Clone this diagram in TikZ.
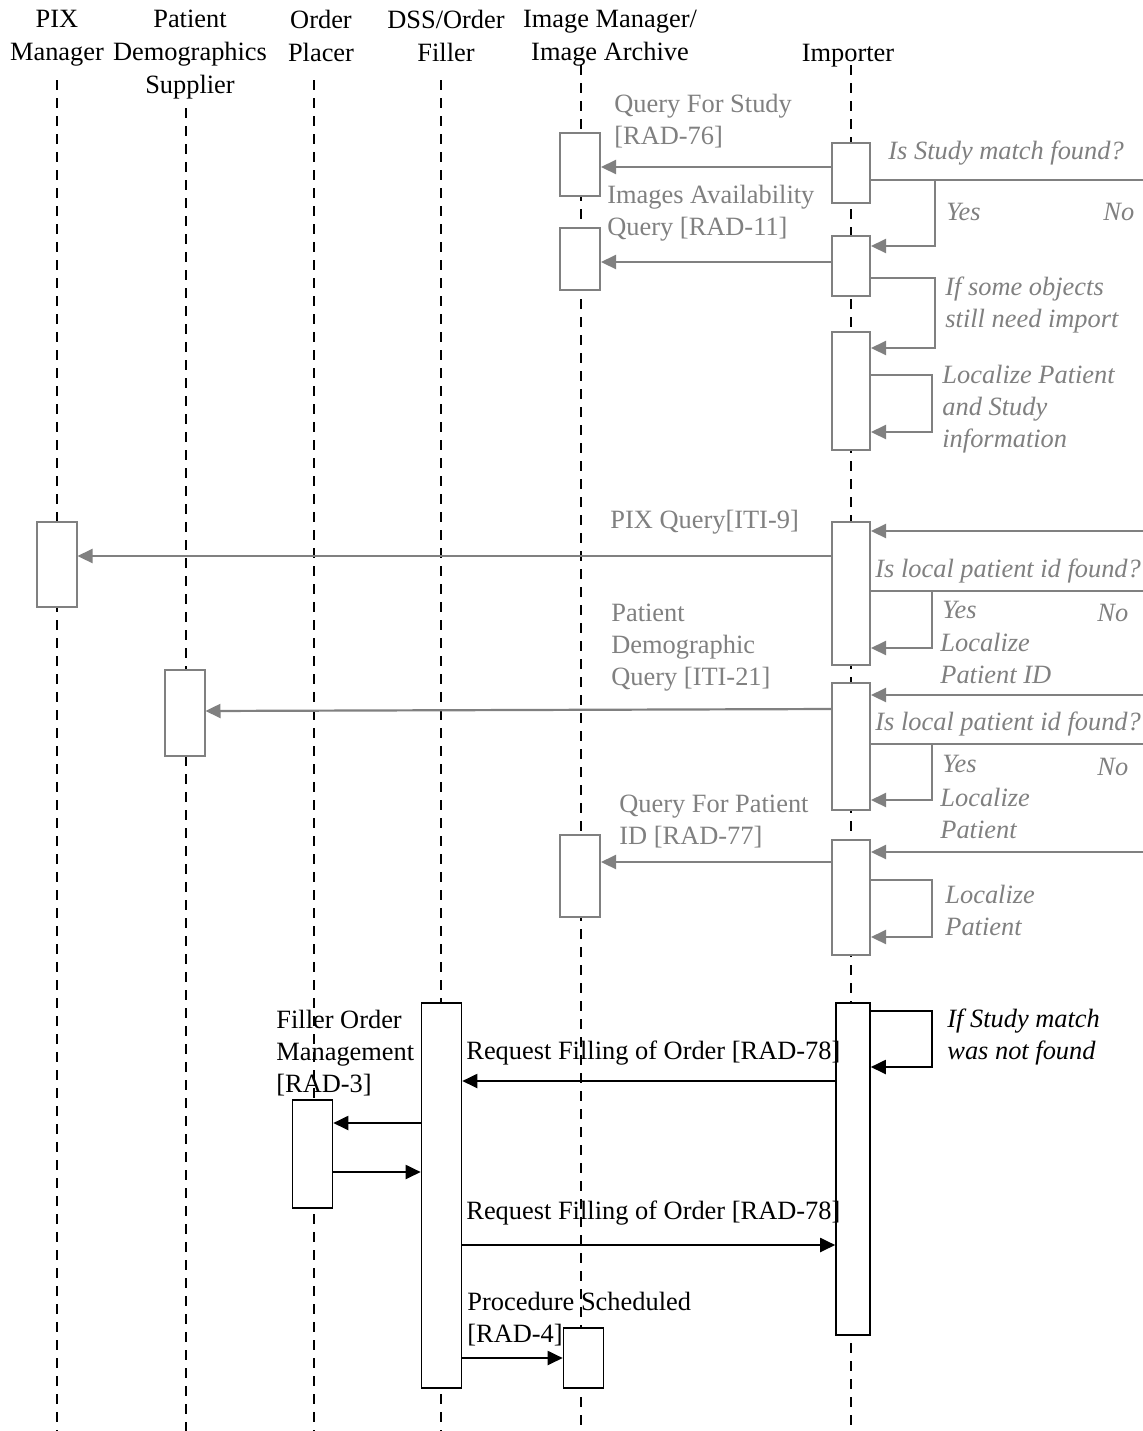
\documentclass[tikz,border=0pt]{standalone}
\usepackage{fontspec}
\setmainfont{Liberation Serif}
\usetikzlibrary{arrows.meta}

\newcommand\diagfont{\fontsize{13.2}{16}\selectfont}
\newcommand\headfont{\fontsize{13.2}{16.5}\selectfont}
\colorlet{flowgray}{black!50}

\tikzset{
  lifeline/.style={draw=black, line width=0.8pt, dash pattern=on 5pt off 4pt},
  actbox/.style={draw, fill=white, minimum width=20pt, inner sep=0pt},
  graybox/.style={actbox, draw=flowgray, line width=1pt},
  blackbox/.style={actbox, draw=black, line width=0.8pt},
  graymsg/.style={-{Triangle[length=7.5pt,width=7pt]}, color=flowgray,
                  line width=1.1pt},
  blackmsg/.style={-{Triangle[length=7.5pt,width=7pt]}, color=black,
                   line width=1pt},
  grayline/.style={draw=flowgray, line width=1.1pt},
  header/.style={font=\headfont, align=center, inner sep=0pt, anchor=north},
  msgtext/.style={font=\diagfont, anchor=west, align=left, inner sep=0pt},
  graytext/.style={msgtext, text=flowgray},
  condtext/.style={graytext, font=\diagfont\itshape},
}

\begin{document}
\begin{tikzpicture}[x=0.5pt, y=-0.5pt]

  \useasboundingbox[fill=white] (0,0) rectangle (1143,1431);

  %% -- Actor headers ---------------------------------------------
  \node[header] (hpix) at (57,9.5)   {PIX\\Manager};
  \node[header] (hsup) at (190,9.5)  {Patient\\Demographics\\Supplier};
  \node[header] (hop)  at (321,9.5)  {Order\\Placer};
  \node[header] (hdss) at (446,9.5)  {DSS/Order\\Filler};
  \node[header] (him)  at (610,9.5)  {Image Manager/\\Image Archive};
  \node[header] (himp) at (848,44)   {Importer};

  %% -- Lifelines -------------------------------------------------
  \foreach \x/\ytop in {57/80, 186/108, 314/80, 441/80, 581/65, 851/65}
    \draw[lifeline] (\x,\ytop) -- (\x,1431);

  %% -- Activation boxes (gray part) ------------------------------
  \node[graybox, minimum height=31.5pt] (im1)  at (580,164.5) {};
  \node[graybox, minimum height=31pt]   (im2)  at (580,259)   {};
  \node[graybox, minimum height=41pt]   (im3)  at (580,876)   {};
  \node[graybox, minimum width=19pt, minimum height=30pt]   (imp1) at (851,173)   {};
  \node[graybox, minimum width=19pt, minimum height=30pt]   (imp2) at (851,266)   {};
  \node[graybox, minimum width=19pt, minimum height=59pt]   (imp3) at (851,391)   {};
  \node[graybox, minimum width=19pt, minimum height=71.5pt] (imp4) at (851,593.5) {};
  \node[graybox, minimum width=19pt, minimum height=63.5pt] (imp5) at (851,746.5) {};
  \node[graybox, minimum width=19pt, minimum height=57.5pt] (imp6) at (851,897.5) {};
  \node[graybox, minimum height=42.5pt] (pix1) at (56.5,564.5) {};
  \node[graybox, minimum height=43pt]   (sup1) at (184.5,713)  {};

  %% -- Activation boxes (black part) -----------------------------
  \node[blackbox, minimum height=192.5pt] (dss1) at (441.5,1195.5) {};
  \node[blackbox, minimum width=17pt, minimum height=166pt] (imp7) at (853,1169) {};
  \node[blackbox, minimum height=54pt] (op1) at (312.5,1154) {};
  \node[blackbox, minimum height=30pt] (im4) at (583.5,1358) {};

  %% -- Free ends at the right margin -----------------------------
  \coordinate (edge1) at (1143,180);
  \coordinate (edge2) at (1143,531);
  \coordinate (edge3) at (1143,591);
  \coordinate (edge4) at (1143,695);
  \coordinate (edge5) at (1143,744);
  \coordinate (edge6) at (1143,852);

  %% -- Study query -----------------------------------------------
  \node[graytext] (tq1) at (614,121) {Query For Study\\{}[RAD-76]};
  \draw[graymsg] (imp1.west |- 0,167) -- (im1.east |- 0,167);

  \node[condtext] (tc1) at (888,153) {Is Study match found?};
  \draw[grayline] (imp1.east |- 0,180) -- (edge1);
  \coordinate (split1) at (935,180);
  \draw[graymsg] (split1) |- (imp2.east |- 0,246);
  \node[condtext] (ty1) at (946,212) {Yes};
  \node[condtext] (tn1) at (1103,212) {No};

  \node[graytext] (tq2) at (607,213) {Images Availability\\Query [RAD-11]};
  \draw[graymsg] (imp2.west |- 0,262) -- (im2.east |- 0,262);

  \node[condtext] (tc2) at (945,305) {If some objects\\still need import};
  \draw[graymsg] (imp2.east |- 0,278) -| (935,310) |- (imp3.east |- 0,348);

  \node[condtext] (tc3) at (942,409) {Localize Patient\\and Study\\information};
  \draw[graymsg] (imp3.east |- 0,375) -| (932,400) |- (imp3.east |- 0,432);

  %% -- PIX query -------------------------------------------------
  \node[graytext] (tq3) at (610,522) {PIX Query[ITI-9]};
  \draw[graymsg] (edge2) -- (imp4.east |- edge2);
  \draw[graymsg] (imp4.west |- 0,556) -- (pix1.east |- 0,556);

  \node[condtext] (tc4) at (875,571) {Is local patient id found?};
  \draw[grayline] (imp4.east |- edge3) -- (edge3);
  \coordinate (split2) at (932,591);
  \draw[graymsg] (split2) |- (imp4.east |- 0,648);
  \node[condtext] (ty2) at (942,610) {Yes};
  \node[condtext] (tn2) at (1097,613) {No};
  \node[condtext] (tl1) at (940,658) {Localize\\Patient ID};

  %% -- Demographics query ----------------------------------------
  \node[graytext] (tq4) at (611,648) {Patient\\Demographic\\Query [ITI-21]};
  \draw[graymsg] (edge4) -- (imp5.east |- edge4);
  \draw[graymsg] (imp5.west |- 0,709) -- (sup1.east |- 0,711);

  \node[condtext] (tc5) at (875,724) {Is local patient id found?};
  \draw[grayline] (imp5.east |- edge5) -- (edge5);
  \coordinate (split3) at (932,744);
  \draw[graymsg] (split3) |- (imp5.east |- 0,800);
  \node[condtext] (ty3) at (942,764) {Yes};
  \node[condtext] (tn3) at (1097,767) {No};
  \node[condtext] (tl2) at (940,813) {Localize\\Patient};

  %% -- Patient ID query ------------------------------------------
  \node[graytext] (tq5) at (619,822) {Query For Patient\\ID [RAD-77]};
  \draw[graymsg] (edge6) -- (imp6.east |- edge6);
  \draw[graymsg] (imp6.west |- 0,862) -- (im3.east |- 0,862);

  \node[condtext] (tl3) at (945,910) {Localize\\Patient};
  \draw[graymsg] (imp6.east |- 0,880) -| (932,900) |- (imp6.east |- 0,937);

  %% -- Order filling (black part) --------------------------------
  \node[msgtext, font=\diagfont\itshape] (tc6) at (947,1037)
    {If Study match\\was not found};
  \draw[blackmsg] (imp7.east |- 0,1011) -| (932,1040) |- (imp7.east |- 0,1067);

  \node[msgtext] (tf1) at (276,1053) {Filler Order\\Management\\{}[RAD-3]};
  \node[msgtext] (tr1) at (466,1053) {Request Filling of Order [RAD-78]};
  \draw[blackmsg] (imp7.west |- 0,1081) -- (dss1.east |- 0,1081);

  \draw[blackmsg] (dss1.west |- 0,1123) -- (op1.east |- 0,1123);
  \draw[blackmsg] (op1.east |- 0,1172) -- (dss1.west |- 0,1172);

  \node[msgtext] (tr2) at (466,1213) {Request Filling of Order [RAD-78]};
  \draw[blackmsg] (dss1.east |- 0,1245) -- (imp7.west |- 0,1245);

  \node[msgtext] (tp1) at (467,1319) {Procedure Scheduled\\{}[RAD-4]};
  \draw[blackmsg] (dss1.east |- 0,1358) -- (im4.west |- 0,1358);

\end{tikzpicture}
\end{document}
